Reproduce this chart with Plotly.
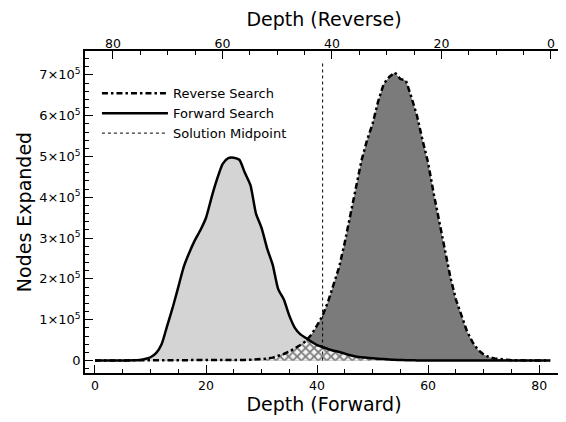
import numpy as np
import plotly.graph_objects as go

depth = list(range(0, 83))

forward_e5 = [0, 0, 0, 0, 0.0001, 0.0005, 0.002, 0.006, 0.015, 0.035,
              0.08, 0.18, 0.4, 0.85, 1.3, 1.8, 2.3, 2.65, 2.95, 3.2,
              3.5, 4.0, 4.45, 4.82, 4.96, 4.97, 4.92, 4.6, 4.3, 3.6,
              3.25, 2.75, 2.35, 1.75, 1.5, 1.1, 0.8, 0.64, 0.55, 0.46,
              0.38, 0.33, 0.28, 0.24, 0.21, 0.17, 0.13, 0.1, 0.08, 0.065,
              0.055, 0.045, 0.035, 0.025, 0.018, 0.012, 0.008, 0.005, 0.003, 0.002,
              0.001, 0.001, 0.001, 0.001, 0.0005, 0.0005, 0.0005, 0.0005, 0.0003, 0.0003,
              0.0002, 0.0002, 0.0001, 0.0001, 0.0001, 0, 0, 0, 0, 0,
              0, 0, 0]

reverse_e5 = [0, 0, 0, 0, 0, 0, 0, 0, 0, 0,
              0, 0, 0, 0, 0, 0, 0, 0, 0, 0,
              0.001, 0.002, 0.003, 0.004, 0.006, 0.008, 0.011, 0.015, 0.02, 0.028,
              0.035, 0.045, 0.07, 0.11, 0.16, 0.22, 0.29, 0.38, 0.48, 0.64,
              0.86, 1.1, 1.45, 1.85, 2.3, 2.9, 3.55, 4.25, 4.9, 5.4,
              5.8, 6.35, 6.78, 6.95, 7.06, 6.9, 6.86, 6.45, 6.0, 5.4,
              4.85, 4.1, 3.4, 2.75, 2.05, 1.5, 1.1, 0.72, 0.45, 0.26,
              0.15, 0.08, 0.05, 0.03, 0.015, 0.008, 0.004, 0.002, 0.001, 0,
              0, 0, 0]

midpoint_depth = 41
midpoint_top = 7.3e5

y_tickvals = [0, 1e5, 2e5, 3e5, 4e5, 5e5, 6e5, 7e5]
y_ticktext = ["0"] + [f"{k}\u00d710<sup>5</sup>" for k in range(1, 8)]
x_tickvals = [0, 20, 40, 60, 80]

forward = np.array(forward_e5) * 1e5
reverse = np.array(reverse_e5) * 1e5
overlap = np.minimum(forward, reverse)

FONT = "DejaVu Sans"

fig = go.Figure()
# fills
fig.add_trace(go.Scatter(x=depth, y=forward, mode="lines", fill="tozeroy",
                         fillcolor="#d4d4d4", line=dict(width=0, shape="spline", smoothing=0.6),
                         showlegend=False, hoverinfo="skip"))
fig.add_trace(go.Scatter(x=depth, y=reverse, mode="lines", fill="tozeroy",
                         fillcolor="#7b7b7b", line=dict(width=0), showlegend=False,
                         hoverinfo="skip"))
fig.add_trace(go.Scatter(x=depth, y=overlap, mode="lines", fill="tozeroy",
                         fillcolor="white",
                         fillpattern=dict(shape="x", bgcolor="#f4f4f4", fgcolor="black",
                                          size=6, solidity=0.5),
                         line=dict(width=0), showlegend=False, hoverinfo="skip"))
# lines (legend order: reverse, forward, midpoint)
fig.add_trace(go.Scatter(x=depth, y=reverse, mode="lines", name="Reverse Search",
                         line=dict(color="black", width=2.5, dash="6px,3px,2.5px,3px")))
fig.add_trace(go.Scatter(x=depth, y=forward, mode="lines", name="Forward Search",
                         line=dict(color="black", width=2.5, shape="spline", smoothing=0.6)))
fig.add_trace(go.Scatter(x=[midpoint_depth, midpoint_depth], y=[0, midpoint_top],
                         mode="lines", name="Solution Midpoint",
                         line=dict(color="black", width=1, dash="3px,3px")))
# dummy trace for top axis
fig.add_trace(go.Scatter(x=[0], y=[None], xaxis="x2", showlegend=False, hoverinfo="skip"))

fig.update_layout(
    width=558, height=414,
    margin=dict(l=77, r=3, t=43, b=49),
    paper_bgcolor="white", plot_bgcolor="white",
    font=dict(family=FONT, color="black", size=12),
    showlegend=True,
    legend=dict(x=0.025, y=0.915, xanchor="left", yanchor="top",
                bgcolor="rgba(0,0,0,0)", font=dict(size=13, family=FONT),
                tracegroupgap=0, itemwidth=66),
    xaxis=dict(range=[-1.8, 84.3], tickvals=x_tickvals, ticks="inside", ticklen=8,
               tickwidth=1.2, tickcolor="black", showline=True, linecolor="black",
               linewidth=1.5, mirror=True, showgrid=False, zeroline=False,
               tickfont=dict(size=12.5), automargin=False,
               minor=dict(dtick=5, tick0=0, ticks="inside", ticklen=4, tickcolor="black",
                          showgrid=False),
               title=dict(text="Depth (Forward)", font=dict(size=19), standoff=3)),
    xaxis2=dict(range=[85.1, -2.2], overlaying="x", side="top", tickvals=x_tickvals,
                ticks="inside", ticklen=8, tickwidth=1.2, tickcolor="black",
                showline=False, showgrid=False, zeroline=False, tickfont=dict(size=12.5),
                automargin=False,
                minor=dict(dtick=5, tick0=0, ticks="inside", ticklen=4, tickcolor="black",
                           showgrid=False),
                title=dict(text="Depth (Reverse)", font=dict(size=19), standoff=3)),
    yaxis=dict(range=[-0.306e5, 7.586e5], tickvals=y_tickvals, ticktext=y_ticktext,
               ticks="inside", ticklen=8, tickwidth=1.2, tickcolor="black",
               showline=True, linecolor="black", linewidth=1.5, mirror=True,
               showgrid=False, zeroline=False, tickfont=dict(size=13), automargin=False,
               minor=dict(dtick=2e4, tick0=0, ticks="inside", ticklen=4,
                          tickcolor="black", showgrid=False),
               title=dict(text="Nodes Expanded", font=dict(size=19), standoff=2)),
)

fig.write_html("out.html")
